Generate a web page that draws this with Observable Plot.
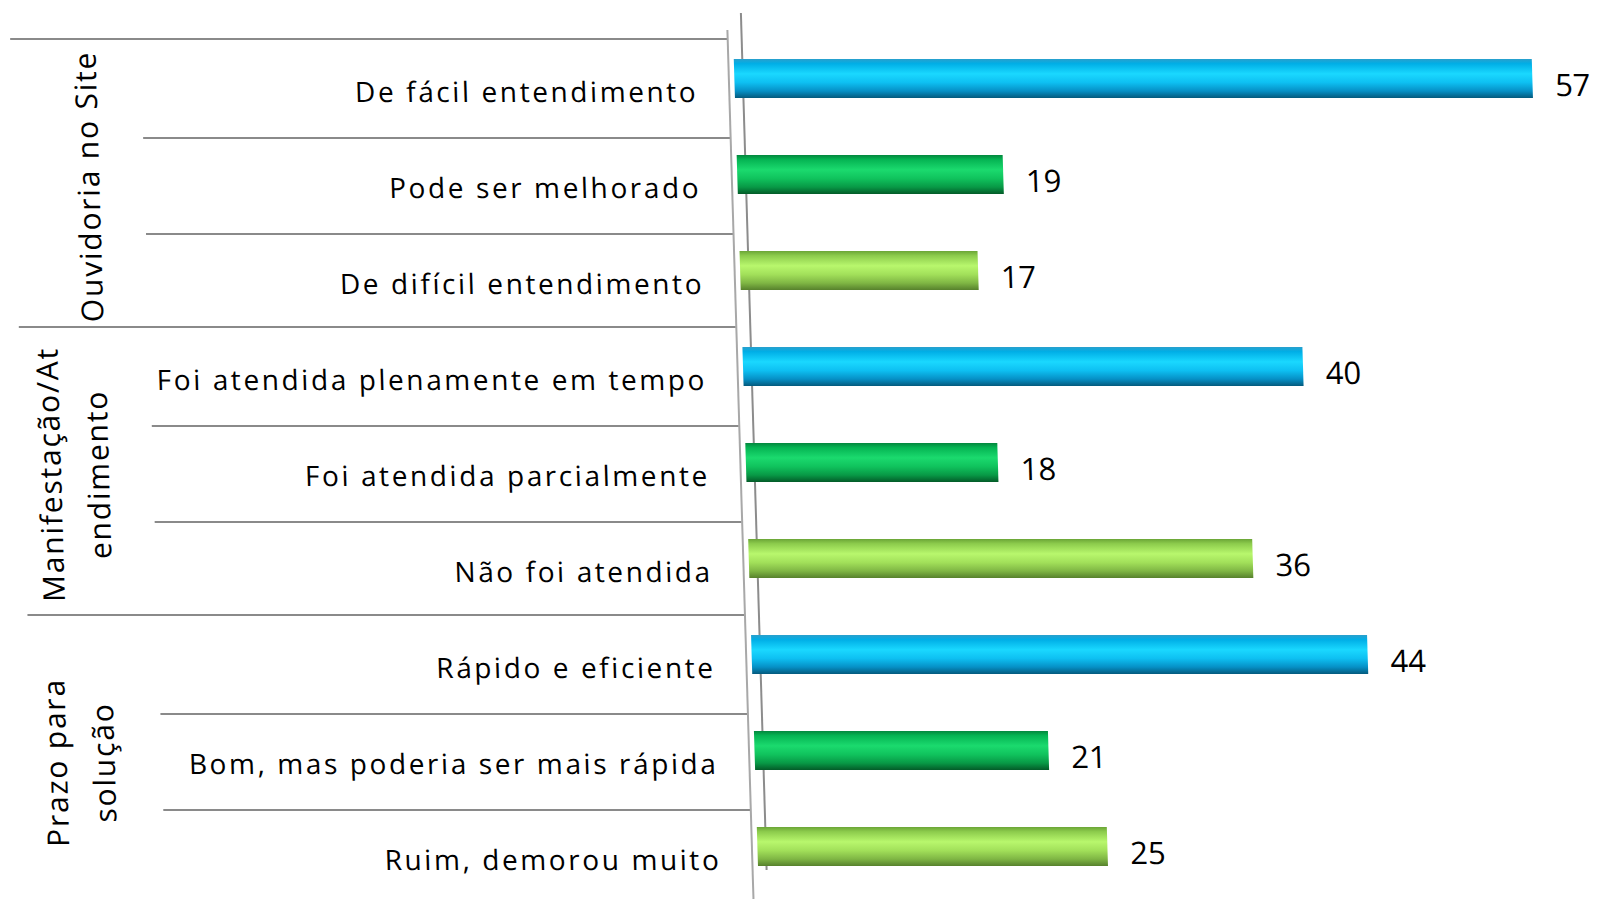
<!DOCTYPE html>
<html><head><meta charset="utf-8">
<script src="https://cdn.jsdelivr.net/npm/d3@7"></script>
<script src="https://cdn.jsdelivr.net/npm/@observablehq/plot@0.6"></script>
<style>html,body{margin:0;padding:0;background:#fff}svg{display:block}</style>
</head><body><div id="chart"></div>
<script>
// ---- data ----
const groups = ["Ouvidoria no Site", "Manifestação/At\nendimento", "Prazo para\nsolução"];
const categories = [
  "De fácil entendimento", "Pode ser melhorado", "De difícil entendimento",
  "Foi atendida plenamente em tempo", "Foi atendida parcialmente", "Não foi atendida",
  "Rápido e eficiente", "Bom, mas poderia ser mais rápida", "Ruim, demorou muito"
];
const groupIndex = [0, 0, 0, 1, 1, 1, 2, 2, 2];
const values = [57, 19, 17, 40, 18, 36, 44, 21, 25];
const seriesShade = ["blue", "green", "lime", "blue", "green", "lime", "blue", "green", "lime"];

// ---- layout / style ----
const W = 1606, H = 899, ML = 732, MR = 34;
const yRange = [38, 909];
const bw = (yRange[1] - yRange[0]) / categories.length;
const SKEW = 0.03;
const gradients = {
  blue:  [["0", "#2a9fcc"], ["0.12", "#00aee6"], ["0.38", "#1ad8ff"], ["0.6", "#0ec0f2"], ["0.82", "#0690c6"], ["1", "#04597c"]],
  green: [["0", "#03863d"], ["0.12", "#05b453"], ["0.38", "#1bda6e"], ["0.6", "#10c35d"], ["0.82", "#089946"], ["1", "#035a28"]],
  lime:  [["0", "#6aa436"], ["0.12", "#8ccb4c"], ["0.38", "#b8f76d"], ["0.6", "#a2e05a"], ["0.82", "#7fb644"], ["1", "#56802c"]]
};
const groupDx = [-654, -677, -680];

const rows = categories.map((label, i) => ({
  label, value: values[i], group: groupIndex[i],
  fill: `url(#grad-${seriesShade[i]})`,
  first: i === 0 || groupIndex[i] !== groupIndex[i - 1]
}));
const groupRows = groups.map((name, k) => ({name, mid: categories[groupIndex.indexOf(k) + 1]}));

const plot = Plot.plot({
  width: W, height: H,
  marginLeft: ML, marginRight: MR, marginTop: 30, marginBottom: 0,
  x: {domain: [0, 60], axis: null},
  y: {domain: categories, range: yRange, padding: 0, axis: null},
  color: {type: "identity"},
  style: {fontFamily: "'Open Sans', sans-serif", color: "#000", background: "#fff"},
  marks: [
    Plot.ruleY(rows.filter(d => d.first), {y: "label", dy: -bw / 2 - 3, stroke: "#8a8a8a", strokeWidth: 2, insetLeft: -723, insetRight: 846}),
    Plot.ruleY(rows.filter(d => !d.first), {y: "label", dy: -bw / 2, stroke: "#8a8a8a", strokeWidth: 2, insetLeft: -593, insetRight: 846}),
    Plot.ruleX([0], {dx: -6, stroke: "#a8a8a8", strokeWidth: 2}),
    Plot.ruleX([0], {dx: 8, stroke: "#8c8c8c", strokeWidth: 2, insetTop: -17, insetBottom: 29}),
    Plot.barX(rows, {y: "label", x: "value", fill: "fill", insetTop: 16.9, insetBottom: 39.9}),
    Plot.text(rows, {y: "label", x: "value", text: d => String(d.value), dx: 22, dy: -4, textAnchor: "start", fontSize: 31, fill: "#000"}),
    Plot.text(rows, {y: "label", x: 0, text: "label", dx: -37, dy: 3, textAnchor: "end", fontSize: 28, fill: "#000"}),
    ...groupRows.map((g, k) => Plot.text([g], {
      y: "mid", text: "name", frameAnchor: "left", textAnchor: "middle", dx: groupDx[k], rotate: -90,
      lineAnchor: "middle", lineHeight: 1.6, fontSize: 30, fill: "#000"
    }))
  ]
});

// gradients
const svg = d3.select(plot);
const defs = svg.insert("defs", ":first-child");
for (const [name, stops] of Object.entries(gradients)) {
  const lg = defs.append("linearGradient").attr("id", `grad-${name}`)
    .attr("x1", 0).attr("y1", 0).attr("x2", 0).attr("y2", 1);
  for (const [o, c] of stops) lg.append("stop").attr("offset", o).attr("stop-color", c);
}
// letter spacing: text mark groups in order [values, item labels, group labels...]
const textGroups = plot.querySelectorAll(':scope > g[aria-label="text"]');
textGroups.forEach((g, i) => {
  if (i === 1) g.style.letterSpacing = "2.6px";
  if (i >= 2) g.style.letterSpacing = "1.8px";
});

// slanted (3D wall) frame: skew all mark groups
const wrap = svg.append("g").attr("transform", `matrix(1,0,${SKEW},1,0,0)`);
plot.querySelectorAll(":scope > g").forEach(g => { if (g !== wrap.node()) wrap.node().appendChild(g); });

document.getElementById("chart").appendChild(plot);
</script>
</body></html>
